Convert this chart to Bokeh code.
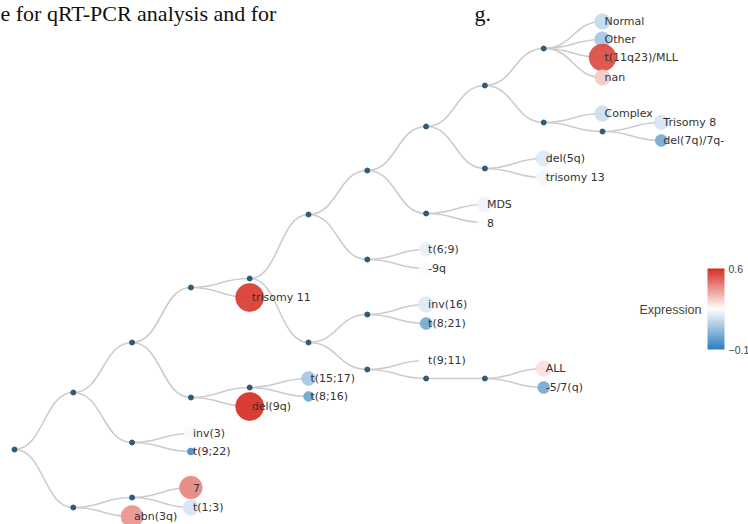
import math
from bokeh.plotting import figure
from bokeh.models import ColumnDataSource, Range1d, LinearColorMapper, ColorBar, FixedTicker, Label
from bokeh.core.properties import value
from bokeh.embed import file_html
from bokeh.resources import INLINE

# ---------------- data ----------------
# internal (branch) nodes of the tree: id, parent, vertical layout position
internal_ids = ["n0", "n1", "n2", "n3", "n4", "n5", "n6", "n7", "n8", "n9",
                "n10", "n11", "n12", "n13", "n14", "n15", "n16", "n17", "n18",
                "n19", "n20", "n21", "n22", "n23", "n24"]
internal_parents = [None, "n0", "n0", "n1", "n1", "n2", "n3", "n3", "n6", "n7",
                    "n8", "n8", "n10", "n10", "n12", "n12", "n14", "n14", "n16",
                    "n16", "n19", "n11", "n11", "n22", "n23"]
internal_y = [449, 392, 507, 342, 442, 497, 287, 397, 278, 387,
              214, 342, 170, 259, 126, 213, 85, 168, 48,
              122, 131, 314, 369, 378, 378]

# leaves: cytogenetic group, parent, layout position, expression, sample count
leaf_names = ["Normal", "Other", "t(11q23)/MLL", "nan", "Complex", "Trisomy 8",
              "del(7q)/7q-", "del(5q)", "trisomy 13", "MDS", "8", "t(6;9)", "-9q",
              "trisomy 11", "inv(16)", "t(8;21)", "t(9;11)", "ALL", "-5/7(q)",
              "t(15;17)", "t(8;16)", "del(9q)", "inv(3)", "t(9;22)", "7", "t(1;3)",
              "abn(3q)"]
leaf_parents = ["n18", "n18", "n18", "n18", "n19", "n20",
                "n20", "n17", "n17", "n15", "n15", "n13", "n13",
                "n6", "n21", "n21", "n22", "n24", "n24",
                "n9", "n9", "n7", "n4", "n4", "n5", "n5",
                "n2"]
leaf_y = [21, 39, 57, 77, 113, 122,
          140, 158, 177, 204, 222, 249, 268,
          297, 304, 323, 360, 368, 387,
          378, 396, 406, 433, 451, 487, 507,
          516]
leaf_expression = [0.15, 0.10, 0.55, 0.34, 0.16, 0.18,
                   0.02, 0.19, 0.23, 0.22, 0.25, 0.21, 0.24,
                   0.58, 0.19, 0.02, 0.25, 0.30, 0.02,
                   0.10, 0.01, 0.60, 0.24, -0.06, 0.45, 0.18,
                   0.43]
leaf_samples = [15, 15, 45, 15, 15, 13,
                9, 15, 15, 15, 13, 12, 12,
                49, 15, 9, 13, 15, 9,
                12, 6, 49, 12, 3, 32, 15,
                30]

expr_low, expr_high = -0.1, 0.6

# ---------------- helpers ----------------
parent_of = dict(zip(internal_ids + leaf_names, internal_parents + leaf_parents))
ypos = dict(zip(internal_ids + leaf_names, internal_y + leaf_y))


def depth(n):
    d = 0
    while parent_of[n] is not None:
        n = parent_of[n]
        d += 1
    return d


def lerp(c1, c2, t):
    return tuple(int(round(a + (b - a) * t)) for a, b in zip(c1, c2))


c_low, c_mid, c_high = (45, 127, 190), (255, 255, 255), (214, 45, 36)
palette = []
for i in range(256):
    t = i / 255
    c = lerp(c_low, c_mid, t / 0.5) if t < 0.5 else lerp(c_mid, c_high, (t - 0.5) / 0.5)
    palette.append("#%02x%02x%02x" % c)
mapper = LinearColorMapper(palette=palette, low=expr_low, high=expr_high)

W, H = 748, 524
x0_px, step_px = 14, 58.8
p = figure(width=W, height=H, output_backend="svg", toolbar_location=None,
           x_range=Range1d(-x0_px / step_px, (W - x0_px) / step_px),
           y_range=Range1d(H, 0), x_axis_type=None, y_axis_type=None,
           min_border=0, outline_line_color=None, background_fill_color="white")
p.grid.visible = False

# links (horizontal cubic bezier)
lk = dict(x0=[], y0=[], x1=[], y1=[], cx0=[], cy0=[], cx1=[], cy1=[])
for n in internal_ids + leaf_names:
    par = parent_of[n]
    if par is None:
        continue
    xa, ya, xb, yb = depth(par), ypos[par], depth(n), ypos[n]
    xm = (xa + xb) / 2
    lk["x0"].append(xa); lk["y0"].append(ya); lk["x1"].append(xb); lk["y1"].append(yb)
    lk["cx0"].append(xm); lk["cy0"].append(ya); lk["cx1"].append(xm); lk["cy1"].append(yb)
p.bezier(x0="x0", y0="y0", x1="x1", y1="y1", cx0="cx0", cy0="cy0", cx1="cx1", cy1="cy1",
         source=ColumnDataSource(lk), line_color="#cccccc", line_width=1.6)

# internal dots
p.scatter(x=[depth(n) for n in internal_ids], y=internal_y, size=5,
          fill_color="#2e5b79", line_color="#2e5b79")

# leaves
leaf_src = ColumnDataSource(dict(
    x=[depth(n) for n in leaf_names], y=leaf_y, name=leaf_names,
    expr=leaf_expression, size=[4 * math.sqrt(s) for s in leaf_samples]))
p.scatter(x="x", y="y", size="size", source=leaf_src,
          fill_color={"field": "expr", "transform": mapper}, fill_alpha=0.92,
          line_color={"field": "expr", "transform": mapper}, line_alpha=0.6)
p.text(x="x", y="y", text="name", source=leaf_src, x_offset=2,
       text_baseline="middle", text_align="left", text_font=value("DejaVu Sans"),
       text_font_size="11px", text_color="#333333")

# colour bar
cb = ColorBar(color_mapper=mapper, location=(707, 175), width=17, height=81,
              padding=0, margin=0, ticker=FixedTicker(ticks=[expr_low, expr_high]),
              major_tick_line_color=None, bar_line_color=None,
              border_line_color=None, background_fill_alpha=0,
              major_label_text_font="Liberation Sans", major_label_text_font_size="10.5px",
              major_label_text_color="#444444", label_standoff=4)
p.add_layout(cb)
p.add_layout(Label(x=(639 - x0_px) / step_px, y=309, text="Expression",
                   text_baseline="middle", text_font="Liberation Sans",
                   text_font_size="12.5px", text_color="#444444"))

# cropped document text at top
p.add_layout(Label(x=(0 - x0_px) / step_px, y=0, text="e for qRT-PCR analysis and for",
                   text_baseline="top", text_font="Liberation Serif",
                   text_font_size="22px", text_color="#111111"))
p.add_layout(Label(x=(474 - x0_px) / step_px, y=0, text="g.",
                   text_baseline="top", text_font="Liberation Serif",
                   text_font_size="22px", text_color="#111111"))

open("out.html", "w").write(file_html(p, INLINE))
